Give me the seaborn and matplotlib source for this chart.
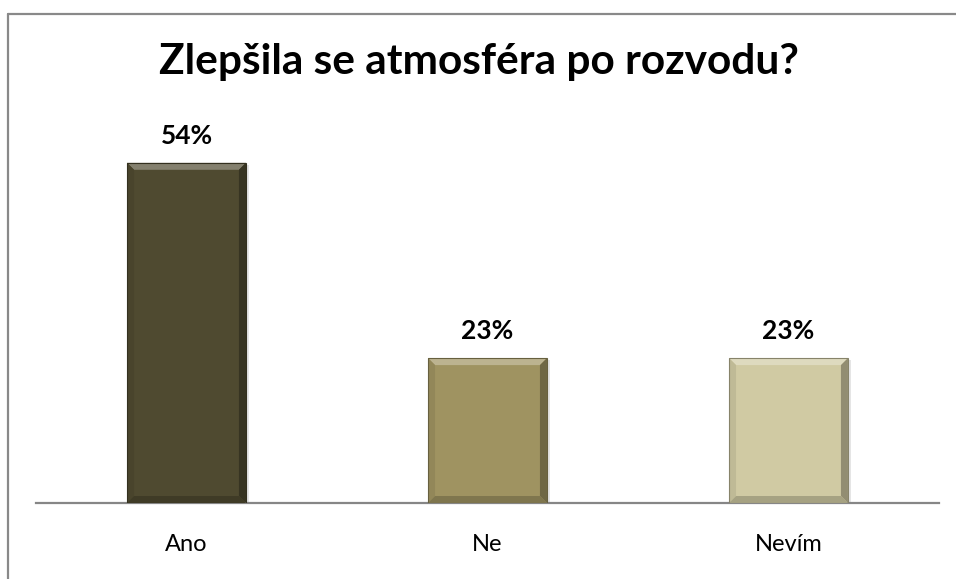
import matplotlib
matplotlib.use("Agg")
import matplotlib.pyplot as plt
import seaborn as sns
import pandas as pd
from matplotlib.lines import Line2D
from matplotlib.patches import Polygon
import numpy as np
import matplotlib.colors as mcolors

categories = ["Ano", "Ne", "Nevím"]
values = [54, 23, 23]
labels = ["54%", "23%", "23%"]
colors = ["#4F4A30", "#9F9361", "#D0CAA3"]
title = "Zlepšila se atmosféra po rozvodu?"

sns.set_theme(style="white")
plt.rcParams['font.family'] = ['Lato', 'DejaVu Sans']

W, H = 956, 579
fig = plt.figure(figsize=(W / 100, H / 100), dpi=100)
fig.patch.set_facecolor("white")
ax = fig.add_axes([36 / W, (H - 503) / H, (939 - 36) / W, (503 - 125) / H])

df = pd.DataFrame({"cat": categories, "val": values})
sns.barplot(data=df, x="cat", y="val", hue="cat", palette=colors, legend=False,
            width=0.395, ax=ax, edgecolor="none", linewidth=0, saturation=1)

ax.set_xlim(-0.5, 2.5)
ax.set_ylim(0, 60)


def mix(c, target, f):
    a = np.array(mcolors.to_rgb(c))
    t = np.array(mcolors.to_rgb(target))
    return tuple(a + (t - a) * f)


# bevel decoration derived from bar geometry
px_x = 3.0 / 903  # data units per pixel (x)
px_y = 60.0 / 378  # data units per pixel (y)
bx = 7 * px_x
by = 7 * px_y
for p, c in zip(ax.patches, colors):
    x0, y0 = p.get_x(), p.get_y()
    w, h = p.get_width(), p.get_height()
    x1, y1 = x0 + w, y0 + h
    # soft shadow
    ax.add_patch(Polygon([(x0 + 2 * px_x, y0 - 3 * px_y), (x1 + 3 * px_x, y0 - 3 * px_y),
                          (x1 + 3 * px_x, y1 - 2 * px_y), (x1, y1 - 2 * px_y), (x1, y0), (x0 + 2 * px_x, y0)],
                         closed=True, facecolor=(0, 0, 0, 0.10), edgecolor="none", zorder=1.5))
    top = Polygon([(x0, y1), (x1, y1), (x1 - bx, y1 - by), (x0 + bx, y1 - by)], closed=True,
                  facecolor=mix(c, "white", 0.3), edgecolor="none", zorder=3)
    left = Polygon([(x0, y0), (x0, y1), (x0 + bx, y1 - by), (x0 + bx, y0 + by)], closed=True,
                   facecolor=mix(c, "black", 0.08), edgecolor="none", zorder=3)
    right = Polygon([(x1, y0), (x1, y1), (x1 - bx, y1 - by), (x1 - bx, y0 + by)], closed=True,
                    facecolor=mix(c, "black", 0.3), edgecolor="none", zorder=3)
    bottom = Polygon([(x0, y0), (x1, y0), (x1 - bx, y0 + by), (x0 + bx, y0 + by)], closed=True,
                     facecolor=mix(c, "black", 0.2), edgecolor="none", zorder=3)
    for poly in (top, left, right, bottom):
        ax.add_patch(poly)
    ax.add_patch(Polygon([(x0, y0), (x1, y0), (x1, y1), (x0, y1)], closed=True, facecolor="none",
                         edgecolor=mix(c, "black", 0.35), linewidth=0.8, zorder=3.5))

for i, (v, t) in enumerate(zip(values, labels)):
    ax.annotate(t, (i, v), xytext=(0, 11), textcoords="offset points",
                ha="center", va="bottom", fontsize=19, fontweight="bold", color="black")

for s in ["top", "right", "left"]:
    ax.spines[s].set_visible(False)
ax.spines["bottom"].set_color("#868686")
ax.spines["bottom"].set_linewidth(1.6)
ax.set_yticks([])
ax.set_xlabel("")
ax.set_ylabel("")
ax.tick_params(axis="x", length=0, pad=22, labelsize=17, labelcolor="black")

fig.text(479 / W, (H - 62) / H, title, ha="center", va="center", fontsize=30.5,
         fontweight="bold", color="black")

# chart frame
fig.add_artist(Line2D([8 / W, 8 / W], [0, (H - 14) / H], color="#898989", linewidth=1.6,
                      transform=fig.transFigure))
fig.add_artist(Line2D([8 / W, 1.0], [(H - 14) / H, (H - 14) / H], color="#898989", linewidth=1.6,
                      transform=fig.transFigure))

fig.savefig("out.png", dpi=100)
